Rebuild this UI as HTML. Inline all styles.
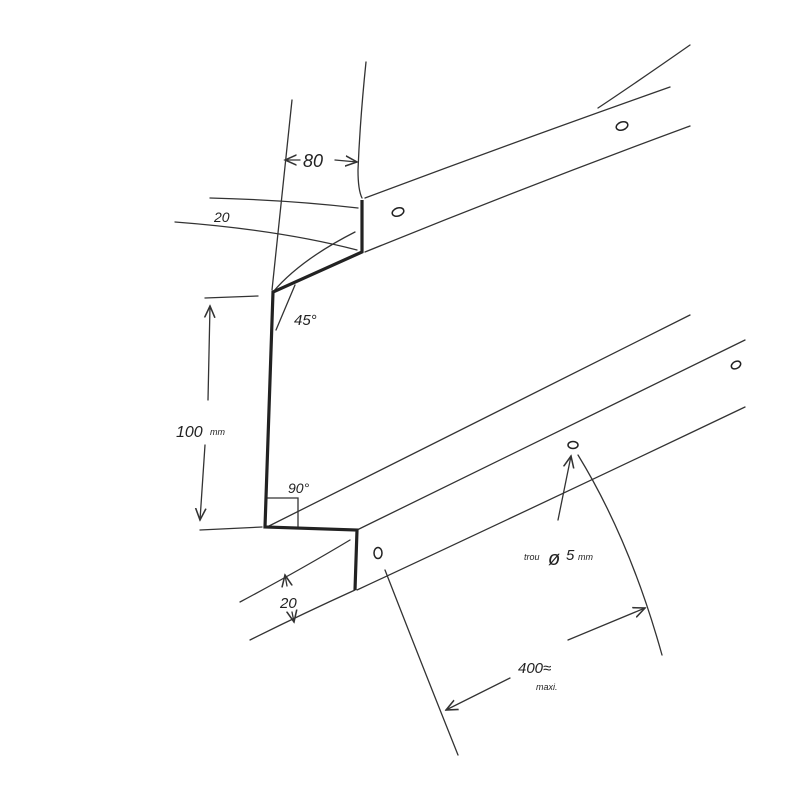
<!DOCTYPE html>
<html><head><meta charset="utf-8"><style>
html,body{margin:0;padding:0;background:#fff;}
svg{display:block}
text{font-family:"Liberation Sans",sans-serif;fill:#222;font-style:italic}
</style></head><body>
<svg width="800" height="800" viewBox="0 0 800 800" xmlns="http://www.w3.org/2000/svg">
<defs><marker id="a" markerWidth="10" markerHeight="10" refX="9" refY="5" orient="auto"><path d="M0,1 L9,5 L0,9" fill="none" stroke="#333" stroke-width="1.2"/></marker></defs>
<g fill="none" stroke="#333" stroke-width="1.3" stroke-linecap="round">
<path d="M365,198 Q520,140 670,87"/>
<path d="M365,252 Q530,185 690,126"/>
<path d="M598,108 Q640,80 690,45"/>
<path d="M366,62 Q360,120 358,170 Q358,190 362,198"/>
<path d="M292,100 Q284,180 272,290"/>
<path d="M210,198 Q290,200 358,208"/>
<path d="M175,222 Q280,230 357,250"/>
<path d="M355,232 Q300,260 273,292"/>
<path d="M295,285 L276,330"/>
<path d="M205,298 L258,296"/>
<path d="M300,160 L285,160" marker-end="url(#a)"/>
<path d="M335,160 L357,162" marker-end="url(#a)"/>
<path d="M208,400 L210,306" marker-end="url(#a)"/>
<path d="M205,445 L200,520" marker-end="url(#a)"/>
<path d="M267,527 Q480,420 690,315"/>
<path d="M357,530 Q550,435 745,340"/>
<path d="M357,590 Q550,500 745,407"/>
<path d="M200,530 L262,527"/>
<path d="M267,498 L298,498 L298,527"/>
<path d="M240,602 Q300,570 350,540"/>
<path d="M250,640 Q300,615 355,590"/>
<path d="M287,586 L285,575" marker-end="url(#a)"/>
<path d="M292,612 L294,622" marker-end="url(#a)"/>
<path d="M558,520 L571,456" marker-end="url(#a)"/>
<path d="M385,570 Q420,660 458,755"/>
<path d="M578,455 Q630,540 662,655"/>
<path d="M510,678 L446,710" marker-end="url(#a)"/>
<path d="M568,640 L645,608" marker-end="url(#a)"/>
</g>
<g fill="none" stroke="#222" stroke-width="3.2" stroke-linejoin="miter">
<path d="M362,200 L362,252 L273,292 L265,527 L357,530 L355,590"/>
</g>
<g fill="none" stroke="#222" stroke-width="1.5">
<ellipse cx="398" cy="212" rx="6" ry="4" transform="rotate(-20 398 212)"/>
<ellipse cx="622" cy="126" rx="6" ry="4" transform="rotate(-20 622 126)"/>
<ellipse cx="378" cy="553" rx="4" ry="5.5"/>
<ellipse cx="573" cy="445" rx="5" ry="3.5"/>
<ellipse cx="736" cy="365" rx="5" ry="3.5" transform="rotate(-30 736 365)"/>
</g>
<text x="303" y="167" font-size="18">80</text>
<text x="214" y="222" font-size="14">20</text>
<text x="294" y="325" font-size="15">45°</text>
<text x="176" y="437" font-size="16">100</text><text x="210" y="435" font-size="9">mm</text>
<text x="288" y="493" font-size="14">90°</text>
<text x="280" y="608" font-size="15">20</text>
<text x="524" y="560" font-size="9">trou</text><text x="548" y="565" font-size="20">ø</text><text x="566" y="560" font-size="15">5</text><text x="578" y="560" font-size="9">mm</text>
<text x="518" y="673" font-size="15">400≈</text>
<text x="536" y="690" font-size="9">maxi.</text>
</svg>
</body></html>
